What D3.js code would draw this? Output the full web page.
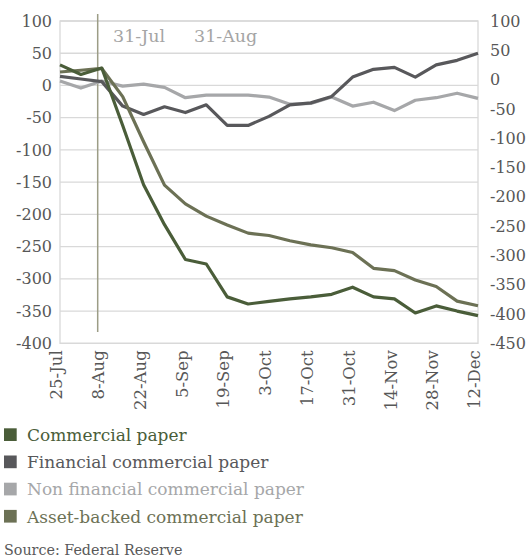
<!DOCTYPE html>
<html>
<head>
<meta charset="utf-8">
<script src="https://cdn.jsdelivr.net/npm/d3@7/dist/d3.min.js"></script>
<style>
  html, body { margin: 0; padding: 0; background: #ffffff; }
  svg { display: block; font-family: "DejaVu Serif", serif; }
</style>
</head>
<body>
<svg id="chart" width="528" height="557"></svg>
<script>
// Weekly observations, 25 Jul to 12 Dec 2007 (change, $bn)
const weeks = ["2007-07-25","2007-08-01","2007-08-08","2007-08-15","2007-08-22","2007-08-29",
  "2007-09-05","2007-09-12","2007-09-19","2007-09-26","2007-10-03","2007-10-10","2007-10-17",
  "2007-10-24","2007-10-31","2007-11-07","2007-11-14","2007-11-21","2007-11-28","2007-12-05","2007-12-12"];

// Left axis series
const commercialPaper = [32, 17, 27, -62, -154, -216, -270, -277, -328, -339, -335, -331, -328,
  -324, -313, -328, -331, -353, -342, -350, -357];
const financialPaper = [14, 10, 6, -32, -45, -33, -42, -30, -62, -62, -48, -30, -27,
  -17, 13, 25, 28, 13, 32, 39, 50];
const nonFinancialPaper = [7, -4, 7, -1, 2, -3, -19, -15, -15, -15, -18, -29, -28,
  -18, -32, -26, -39, -23, -19, -12, -20];
// Right axis series
const assetBackedPaper = [13, 16, 19, -29, -106, -180, -212, -233, -248, -262, -266, -275, -282,
  -287, -295, -322, -326, -342, -353, -378, -386];

const seriesNames = ["Commercial paper", "Financial commercial paper",
  "Non financial commercial paper", "Asset-backed commercial paper"];
const seriesColors = ["#4a5d39", "#58585b", "#a6a7a9", "#6c7155"];

const tickDates = ["2007-07-25","2007-08-08","2007-08-22","2007-09-05","2007-09-19","2007-10-03",
  "2007-10-17","2007-10-31","2007-11-14","2007-11-28","2007-12-12"];
const leftTicks = [100, 50, 0, -50, -100, -150, -200, -250, -300, -350, -400];
const rightTicks = [100, 50, 0, -50, -100, -150, -200, -250, -300, -350, -400, -450];

const markerDate = "2007-08-06T15:00";
const markerLabels = ["31-Jul", "31-Aug"];

const parse = s => new Date(s);
const fmt = d3.timeFormat("%-d-%b");
const num = d => String(d);   // plain hyphen-minus

const svg = d3.select("#chart");
const plot = { left: 60, right: 478, top: 21, bottom: 343.3 };

const x = d3.scaleTime()
  .domain([parse(weeks[0]), parse(weeks[weeks.length - 1])])
  .range([plot.left, plot.right]);
const yL = d3.scaleLinear().domain([-400, 100]).range([plot.bottom, plot.top]);
const yR = d3.scaleLinear().domain([-450, 100]).range([plot.bottom, plot.top]);

const gridColor = "#d9d9d9";
const tickColor = "#575757";
const tickFont = 16;

// Horizontal gridlines
svg.append("g")
  .selectAll("line")
  .data(leftTicks)
  .join("line")
  .attr("x1", plot.left).attr("x2", plot.right)
  .attr("y1", d => yL(d)).attr("y2", d => yL(d))
  .attr("stroke", gridColor).attr("stroke-width", 1.3);

// Plot frame
svg.append("rect")
  .attr("x", plot.left).attr("y", plot.top)
  .attr("width", plot.right - plot.left).attr("height", plot.bottom - plot.top)
  .attr("fill", "none").attr("stroke", gridColor).attr("stroke-width", 1.3);

// Left axis
const leftAxis = svg.append("g")
  .attr("transform", `translate(${plot.left},0)`)
  .call(d3.axisLeft(yL).tickValues(leftTicks).tickFormat(num).tickSize(0).tickPadding(8));
leftAxis.select(".domain").remove();
leftAxis.selectAll("text")
  .attr("font-family", "DejaVu Serif").attr("font-size", tickFont).attr("fill", tickColor);

// Right axis
const rightAxis = svg.append("g")
  .attr("transform", `translate(${plot.right},0)`)
  .call(d3.axisRight(yR).tickValues(rightTicks).tickFormat(num).tickSize(0).tickPadding(12));
rightAxis.select(".domain").remove();
rightAxis.selectAll("text")
  .attr("font-family", "DejaVu Serif").attr("font-size", tickFont).attr("fill", tickColor);

// Bottom axis with rotated date labels
const bottomAxis = svg.append("g")
  .attr("transform", `translate(0,${plot.bottom})`)
  .call(d3.axisBottom(x).tickValues(tickDates.map(parse)).tickFormat(fmt).tickSize(0));
bottomAxis.select(".domain").remove();
bottomAxis.selectAll("text")
  .attr("font-family", "DejaVu Serif").attr("font-size", 16.5).attr("fill", tickColor)
  .attr("transform", "rotate(-90)")
  .attr("text-anchor", "end")
  .attr("dy", "0.35em")
  .attr("x", -7)
  .attr("y", -4);

// Vertical event marker
svg.append("line")
  .attr("x1", x(parse(markerDate))).attr("x2", x(parse(markerDate)))
  .attr("y1", 14).attr("y2", 332)
  .attr("stroke", "#9c9d86").attr("stroke-width", 1.5);

// Marker captions
svg.append("g")
  .selectAll("text")
  .data(markerLabels)
  .join("text")
  .attr("x", (d, i) => 113 + i * 81)
  .attr("y", 42)
  .attr("font-size", 17.5)
  .attr("fill", "#a5a5a5")
  .text(d => d);

// Series lines
const dates = weeks.map(parse);
const series = [
  { values: commercialPaper, scale: yL, color: seriesColors[0] },
  { values: financialPaper, scale: yL, color: seriesColors[1] },
  { values: nonFinancialPaper, scale: yL, color: seriesColors[2] },
  { values: assetBackedPaper, scale: yR, color: seriesColors[3] }
];
const drawOrder = [2, 1, 3, 0];
drawOrder.forEach(k => {
  const s = series[k];
  const line = d3.line()
    .x((d, i) => x(dates[i]))
    .y(d => s.scale(d));
  svg.append("path")
    .datum(s.values)
    .attr("d", line)
    .attr("fill", "none")
    .attr("stroke", s.color)
    .attr("stroke-width", 3.2)
    .attr("stroke-linejoin", "round")
    .attr("stroke-linecap", "butt");
});

// Legend
const legend = svg.append("g");
const rows = legend.selectAll("g")
  .data(seriesNames)
  .join("g")
  .attr("transform", (d, i) => `translate(4,${441 + i * 27.2})`);
rows.append("rect")
  .attr("x", 0).attr("y", -12.7)
  .attr("width", 12.7).attr("height", 12.7)
  .attr("fill", (d, i) => seriesColors[i]);
rows.append("text")
  .attr("x", 23).attr("y", 0)
  .attr("font-size", 17)
  .attr("fill", (d, i) => seriesColors[i])
  .text(d => d);

// Source note
svg.append("text")
  .attr("x", 4).attr("y", 555)
  .attr("font-size", 14.3)
  .attr("fill", "#595959")
  .text("Source: Federal Reserve");
</script>
</body>
</html>
